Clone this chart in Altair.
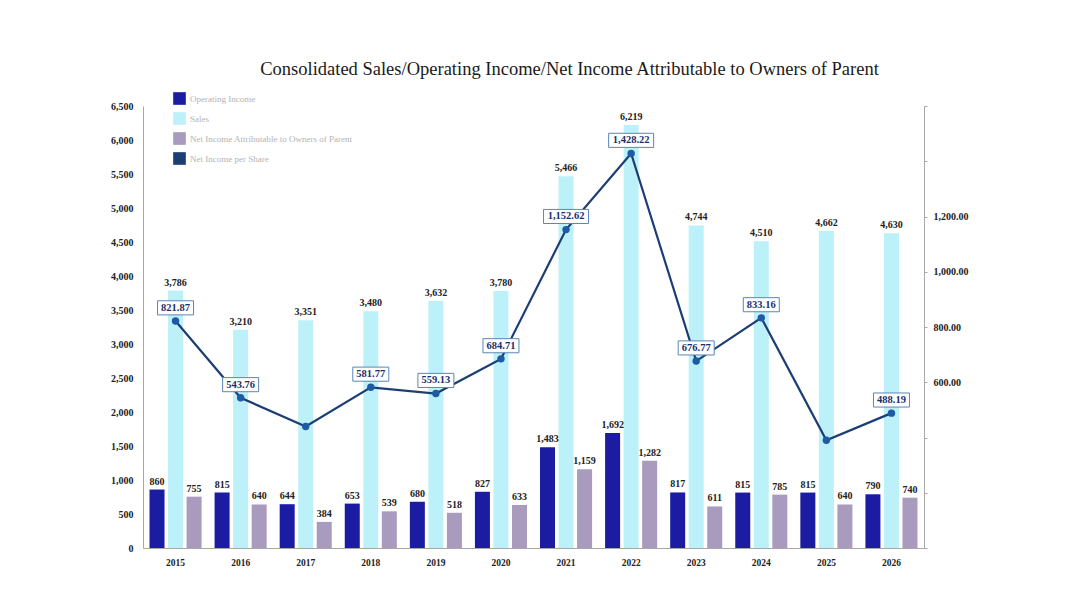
import altair as alt
import pandas as pd

years = ["2015", "2016", "2017", "2018", "2019", "2020", "2021", "2022", "2023", "2024", "2025", "2026"]
sales = [3786, 3210, 3351, 3480, 3632, 3780, 5466, 6219, 4744, 4510, 4662, 4630]
operating_income = [860, 815, 644, 653, 680, 827, 1483, 1692, 817, 815, 815, 790]
net_income = [755, 640, 384, 539, 518, 633, 1159, 1282, 611, 785, 640, 740]
eps = [821.87, 543.76, 440.0, 581.77, 559.13, 684.71, 1152.62, 1428.22, 676.77, 833.16, 390.0, 488.19]
eps_labels = ["821.87", "543.76", "", "581.77", "559.13", "684.71", "1,152.62", "1,428.22", "676.77", "833.16", "", "488.19"]

series_names = ["Operating Income", "Sales", "Net Income Attributable to Owners of Parent"]
line_name = "Net Income per Share"
series_colors = ["#1c1ca3", "#bdf1f9", "#a89bbd", "#1b3f74"]

rows = []
for i, yr in enumerate(years):
    for s, vals in zip(series_names, [operating_income, sales, net_income]):
        rows.append({"year": yr, "series": s, "value": vals[i]})
bars_df = pd.DataFrame(rows)
line_df = pd.DataFrame({"year": years, "eps": eps, "label": eps_labels})

FONT = "Liberation Serif"

x_enc = alt.X(
    "year:N", sort=years,
    scale=alt.Scale(paddingInner=0.2, paddingOuter=0.1),
    axis=alt.Axis(title=None, labelAngle=0, ticks=False, domainColor="#a8a8a8",
                  labelFont=FONT, labelFontSize=9.5, labelFontWeight="bold",
                  labelColor="#222222", labelPadding=9),
)

left_scale = alt.Scale(domain=[0, 6500], nice=False, zero=True)
right_scale = alt.Scale(domain=[0, 1600], nice=False, zero=True)

left_axis = alt.Axis(title=None, values=list(range(0, 6501, 500)),
                     labelExpr="format(datum.value, ',.0f')",
                     ticks=False, grid=False, domainColor="#a8a8a8",
                     labelFont=FONT, labelFontSize=10, labelFontWeight="bold",
                     labelColor="#222222", labelPadding=10)
right_axis = alt.Axis(orient="right", title=None, values=list(range(0, 1601, 200)),
                      labelExpr="datum.value >= 600 && datum.value <= 1200 ? format(datum.value, ',.2f') : ''",
                      grid=False, tickSize=3, tickColor="#a8a8a8", domainColor="#a8a8a8",
                      labelFont=FONT, labelFontSize=10, labelFontWeight="bold",
                      labelColor="#222222", labelPadding=6)

color_scale = alt.Scale(domain=series_names + [line_name], range=series_colors)

bars = alt.Chart(bars_df).mark_bar().encode(
    x=x_enc,
    xOffset=alt.XOffset("series:N", sort=series_names,
                        scale=alt.Scale(paddingInner=0.19, paddingOuter=0)),
    y=alt.Y("value:Q", scale=left_scale, axis=left_axis),
    color=alt.Color("series:N", scale=color_scale,
                    legend=alt.Legend(title=None, orient="none", legendX=30, legendY=-14,
                                      symbolType="square", symbolSize=160,
                                      rowPadding=7, labelFont=FONT, labelFontSize=9,
                                      labelLimit=0,
                                      labelColor="#b4b4b4", symbolStrokeWidth=0)),
)

label_layers = []
for s, dx in zip(series_names, [-18.5, 0, 18.5]):
    label_layers.append(
        alt.Chart(bars_df).transform_filter(alt.datum.series == s)
        .mark_text(dx=dx, dy=-8, font=FONT, fontSize=10, fontWeight="bold", color="#222222")
        .encode(x=x_enc, y=alt.Y("value:Q", scale=left_scale, axis=left_axis),
                text=alt.Text("value:Q", format=","))
    )

left_layer = alt.layer(bars, *label_layers)

line = alt.Chart(line_df).mark_line(strokeWidth=2.2).encode(
    x=x_enc,
    y=alt.Y("eps:Q", scale=right_scale, axis=right_axis),
    color=alt.datum(line_name),
)

points = alt.Chart(line_df).mark_circle(size=55, opacity=1, color="#1f5aa6").encode(
    x=x_enc, y=alt.Y("eps:Q", scale=right_scale, axis=right_axis)
)

box_short = alt.Chart(line_df).transform_filter(
    "length(datum.label) > 0 && length(datum.label) <= 6"
).transform_calculate(lo="datum.eps + 22", hi="datum.eps + 73").mark_bar(
    width=36, fill="white", stroke="#5a86b8", strokeWidth=1
).encode(x=x_enc, y=alt.Y("lo:Q", scale=right_scale, axis=right_axis), y2="hi:Q")

box_long = alt.Chart(line_df).transform_filter(
    "length(datum.label) > 6"
).transform_calculate(lo="datum.eps + 22", hi="datum.eps + 73").mark_bar(
    width=45, fill="white", stroke="#5a86b8", strokeWidth=1
).encode(x=x_enc, y=alt.Y("lo:Q", scale=right_scale, axis=right_axis), y2="hi:Q")

box_text = alt.Chart(line_df).transform_filter("length(datum.label) > 0").transform_calculate(
    mid="datum.eps + 47.5"
).mark_text(font=FONT, fontSize=10.5, fontWeight="bold", color="#1b2f6b", baseline="middle").encode(
    x=x_enc, y=alt.Y("mid:Q", scale=right_scale, axis=right_axis), text="label:N"
)

right_layer = alt.layer(line, points, box_short, box_long, box_text)

chart = alt.layer(left_layer, right_layer).resolve_scale(y="independent").properties(
    width=781, height=442,
    autosize=alt.AutoSizeParams(type="none"),
    padding={"left": 135, "top": 98, "right": 140, "bottom": 45},
    title=alt.TitleParams(
        "Consolidated Sales/Operating Income/Net Income Attributable to Owners of Parent",
        font=FONT, fontSize=18.5, fontWeight="normal", color="#1a1a1a",
        anchor="middle", dx=36, offset=14,
    ),
).configure_view(stroke=None).configure_axis(grid=False)

chart.save("out.html", embed_options={"renderer": "svg", "actions": False})
